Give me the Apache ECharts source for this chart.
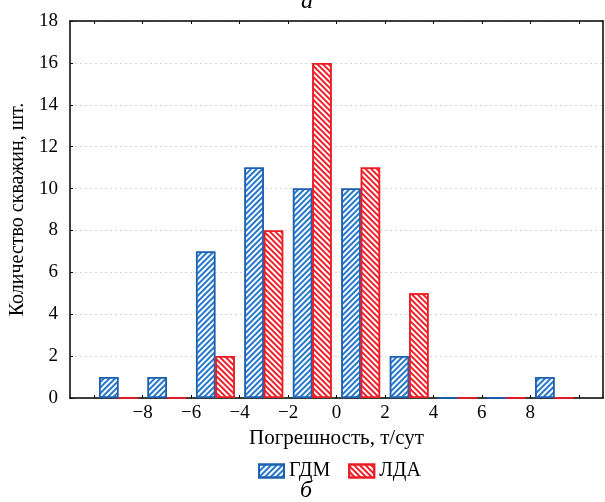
<!DOCTYPE html>
<html><head><meta charset="utf-8">
<script src="https://cdn.jsdelivr.net/npm/echarts@6/dist/echarts.min.js"></script>
<style>html,body{margin:0;padding:0;background:#fff}#c{width:605px;height:502px}</style>
</head><body><div id="c"></div>
<script>
// bin centres of the histogram (bins of width 2 from -10 to 10)
const binCenters = [-9, -7, -5, -3, -1, 1, 3, 5, 7, 9];
const gdmCounts = [1, 1, 7, 11, 10, 10, 2, 0, 0, 1];
const ldaCounts = [0, 0, 2, 8, 16, 11, 5, 0, 0, 0];
const binEdges = [-10, -8, -6, -4, -2, 0, 2, 4, 6, 8, 10];
const xTickLabels = [-8, -6, -4, -2, 0, 2, 4, 6, 8];
const seriesNames = ['ГДМ', 'ЛДА'];

const FONT = 'Liberation Serif';
const BLUE = '#1d5fb0', BLUE_S = '#2477cc';
const RED = '#ec1c24', RED_S = '#f0202a';

const chart = echarts.init(document.getElementById('c'), null, {renderer: 'canvas'});
const pair = (xs, ys) => xs.map((x, i) => [x, ys[i]]);

chart.setOption({
  animation: false,
  textStyle: {fontFamily: FONT, color: '#000'},
  grid: {left: 68, right: 2, top: 21, bottom: 104, show: false},
  legend: {
    data: seriesNames, left: 253, top: 456, itemWidth: 25, itemHeight: 13, itemGap: 18, icon: 'rect',
    textStyle: {fontFamily: FONT, fontSize: 20, color: '#000'}
  },
  xAxis: [{
    type: 'value', min: -11, max: 11, position: 'bottom',
    name: 'Погрешность, т/сут', nameLocation: 'middle', nameGap: 22,
    nameTextStyle: {fontFamily: FONT, fontSize: 21, color: '#000'},
    axisLine: {show: true, onZero: false, lineStyle: {color: '#000', width: 1.5}},
    axisTick: {show: true, inside: true, length: 3, customValues: binEdges, lineStyle: {color: '#000'}},
    axisLabel: {customValues: xTickLabels, fontFamily: FONT, fontSize: 19, color: '#000', margin: 6,
      formatter: v => (v < 0 ? '\u2212' + Math.abs(v) : String(v))},
    splitLine: {show: false}
  }, {
    type: 'value', min: -11, max: 11, position: 'top',
    axisLine: {show: true, onZero: false, lineStyle: {color: '#000', width: 1.5}},
    axisTick: {show: true, inside: true, length: 3, customValues: binEdges, lineStyle: {color: '#000'}},
    axisLabel: {show: false}, splitLine: {show: false}
  }],
  yAxis: [{
    type: 'value', min: 0, max: 18, interval: 2, position: 'left',
    name: 'Количество скважин, шт.', nameLocation: 'middle', nameGap: 42,
    nameTextStyle: {fontFamily: FONT, fontSize: 20, color: '#000'},
    axisLine: {show: true, onZero: false, lineStyle: {color: '#000', width: 1.5}},
    axisTick: {show: true, inside: true, length: 3, lineStyle: {color: '#000'}},
    axisLabel: {fontFamily: FONT, fontSize: 19, color: '#000', margin: 12},
    splitLine: {show: true, lineStyle: {color: '#d6d6d6', type: [2, 3], width: 1}}
  }, {
    type: 'value', min: 0, max: 18, position: 'right',
    axisLine: {show: true, onZero: false, lineStyle: {color: '#000', width: 1.5}},
    axisTick: {show: false}, axisLabel: {show: false}, splitLine: {show: false}
  }],
  series: [{
    name: seriesNames[0], type: 'bar', xAxisIndex: 0, yAxisIndex: 0,
    barWidth: 19.4, barGap: '0%',
    data: pair(binCenters, gdmCounts),
    itemStyle: {color: '#fff', borderColor: BLUE, borderWidth: 1.5,
      decal: {symbol: 'rect', symbolSize: 1, dashArrayX: [1, 0], dashArrayY: [1.6, 1.6], rotation: -Math.PI / 4, color: BLUE_S}}
  }, {
    name: seriesNames[1], type: 'bar', xAxisIndex: 0, yAxisIndex: 0,
    barWidth: 19.4, barGap: '0%',
    data: pair(binCenters, ldaCounts),
    itemStyle: {color: '#fff', borderColor: RED, borderWidth: 1.5,
      decal: {symbol: 'rect', symbolSize: 1, dashArrayX: [1, 0], dashArrayY: [1.6, 1.6], rotation: Math.PI / 4, color: RED_S}}
  }],
  graphic: [
    {type: 'text', left: 301, top: -10, style: {text: 'а', fontFamily: FONT, fontStyle: 'italic', fontSize: 24, fill: '#000'}},
    {type: 'text', left: 300, top: 479, style: {text: 'б', fontFamily: FONT, fontStyle: 'italic', fontSize: 24, fill: '#000'}}
  ]
});
</script></body></html>
